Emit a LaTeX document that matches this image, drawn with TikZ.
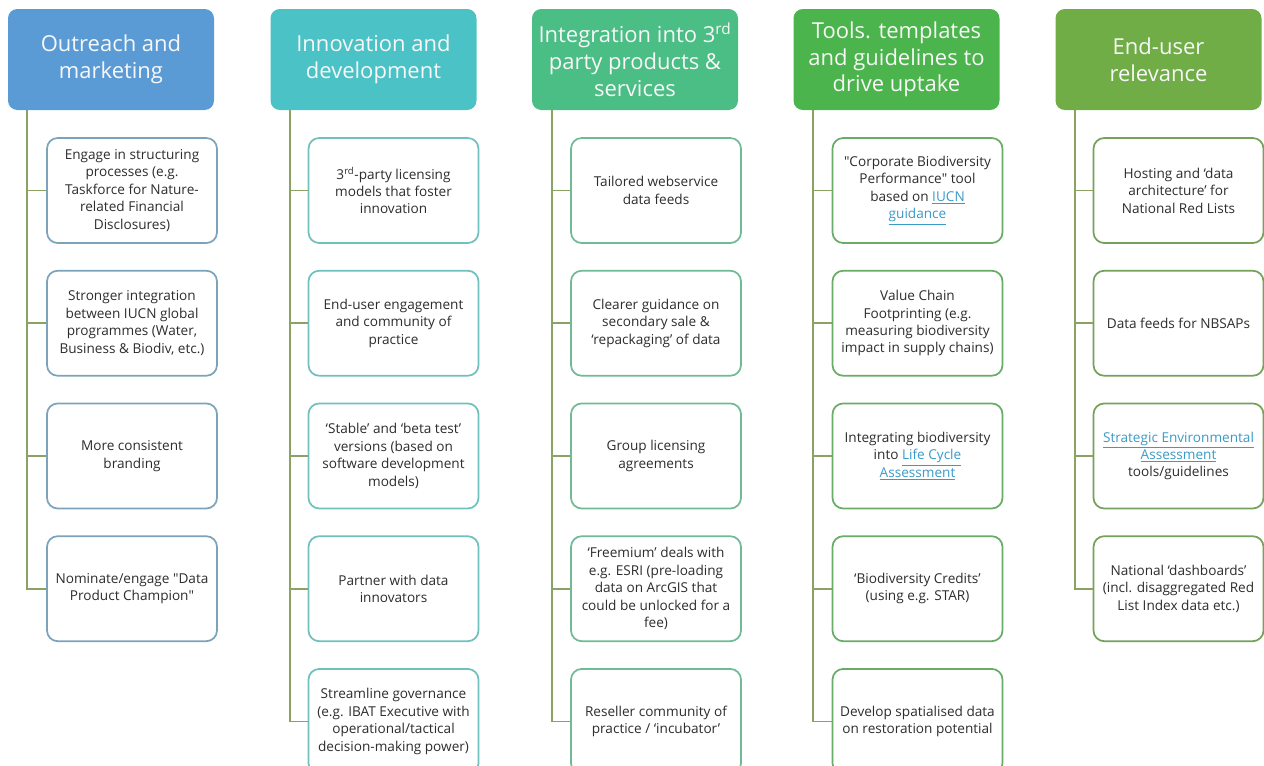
\documentclass[tikz,border=0pt]{standalone}
\usepackage{fontspec}
\setmainfont{Open Sans}
\usetikzlibrary{positioning}

\definecolor{headA}{RGB}{91,155,213}
\definecolor{headB}{RGB}{75,195,198}
\definecolor{headC}{RGB}{74,190,132}
\definecolor{headD}{RGB}{76,180,76}
\definecolor{headE}{RGB}{112,173,71}
\definecolor{rimA}{RGB}{125,163,186}
\definecolor{rimB}{RGB}{112,192,190}
\definecolor{rimC}{RGB}{112,186,150}
\definecolor{rimD}{RGB}{104,172,104}
\definecolor{rimE}{RGB}{116,162,90}
\definecolor{connline}{RGB}{138,162,98}
\definecolor{bodytext}{RGB}{45,45,45}
\definecolor{linkblue}{RGB}{58,155,200}

\newcommand{\weblink}[1]{\textcolor{linkblue}{\underline{#1}}}

\begin{document}
\begin{tikzpicture}[x=0.75pt, y=-0.75pt, node distance=19.5pt,
    head/.style={rounded corners=7pt, minimum width=154.5pt, minimum height=75.75pt,
        align=center, inner sep=2pt, text=white!94!gray,
        font=\fontsize{16.5}{20}\selectfont},
    item/.style={draw, line width=1.3pt, fill=white, rounded corners=8pt,
        minimum width=127.5pt, minimum height=78.75pt, align=center, inner sep=2pt,
        text=bodytext, font=\fontsize{10.2}{13.1}\selectfont},
    conn/.style={draw=connline, line width=1.4pt}]

    \useasboundingbox (0,0) rectangle (1264,765);

    % headers
    \node[head, fill=headA] (hA) at (111,59.5) {Outreach and\\marketing};
    \node[head, fill=headB] (hB) at (373.5,59.5) {Innovation and\\development};
    \node[head, fill=headC] (hC) at (635,59.5) {Integration into 3\textsuperscript{rd}\\party products \&\\services};
    \node[head, fill=headD] (hD) at (896.5,59.5) {Tools. templates\\and guidelines to\\drive uptake};
    \node[head, fill=headE] (hE) at (1158.5,59.5) {End-user\\relevance};

    % outreach
    \node[item, draw=rimA] (a1) at (132,190.5) {Engage in structuring\\processes (e.g.\\Taskforce for Nature-\\related Financial\\Disclosures)};
    \node[item, draw=rimA, below=of a1] (a2) {Stronger integration\\between IUCN global\\programmes (Water,\\Business \& Biodiv, etc.)};
    \node[item, draw=rimA, below=of a2] (a3) {More consistent\\branding};
    \node[item, draw=rimA, below=of a3] (a4) {Nominate/engage \textquotedbl Data\\Product Champion\textquotedbl};

    % innovation
    \node[item, draw=rimB] (b1) at (393.5,190.5) {3\textsuperscript{rd}-party licensing\\models that foster\\innovation};
    \node[item, draw=rimB, below=of b1] (b2) {End-user engagement\\and community of\\practice};
    \node[item, draw=rimB, below=of b2] (b3) {`Stable' and `beta test'\\versions (based on\\software development\\models)};
    \node[item, draw=rimB, below=of b3] (b4) {Partner with data\\innovators};
    \node[item, draw=rimB, below=of b4] (b5) {Streamline governance\\(e.g. IBAT Executive with\\operational/tactical\\decision-making power)};

    % integration
    \node[item, draw=rimC] (c1) at (656,190.5) {Tailored webservice\\data feeds};
    \node[item, draw=rimC, below=of c1] (c2) {Clearer guidance on\\secondary sale \&\\`repackaging' of data};
    \node[item, draw=rimC, below=of c2] (c3) {Group licensing\\agreements};
    \node[item, draw=rimC, below=of c3] (c4) {`Freemium' deals with\\e.g. ESRI (pre-loading\\data on ArcGIS that\\could be unlocked for a\\fee)};
    \node[item, draw=rimC, below=of c4] (c5) {Reseller community of\\practice / `incubator'};

    % tools
    \node[item, draw=rimD] (d1) at (917.5,190.5) {\textquotedbl Corporate Biodiversity\\Performance\textquotedbl{} tool\\based on \weblink{IUCN}\\\weblink{guidance}};
    \node[item, draw=rimD, below=of d1] (d2) {Value Chain\\Footprinting (e.g.\\measuring biodiversity\\impact in supply chains)};
    \node[item, draw=rimD, below=of d2] (d3) {Integrating biodiversity\\into \weblink{Life Cycle}\\\weblink{Assessment}};
    \node[item, draw=rimD, below=of d3] (d4) {`Biodiversity Credits'\\(using e.g. STAR)};
    \node[item, draw=rimD, below=of d4] (d5) {Develop spatialised data\\on restoration potential};

    % end-user
    \node[item, draw=rimE] (e1) at (1178.5,190.5) {Hosting and `data\\architecture' for\\National Red Lists};
    \node[item, draw=rimE, below=of e1] (e2) {Data feeds for NBSAPs};
    \node[item, draw=rimE, below=of e2] (e3) {\weblink{Strategic Environmental}\\\weblink{Assessment}\\tools/guidelines};
    \node[item, draw=rimE, below=of e3] (e4) {National `dashboards'\\(incl. disaggregated Red\\List Index data etc.)};

    % trunks
    \coordinate (tA) at ([xshift=14.25pt]hA.south west);
    \coordinate (tB) at ([xshift=15pt]hB.south west);
    \coordinate (tC) at ([xshift=15pt]hC.south west);
    \coordinate (tD) at ([xshift=15pt]hD.south west);
    \coordinate (tE) at ([xshift=15pt]hE.south west);

    \draw[conn] (tA) |- (a4.west) (tA |- a1.west) -- (a1.west)
        (tA |- a2.west) -- (a2.west) (tA |- a3.west) -- (a3.west);
    \draw[conn] (tB) |- (b5.west) (tB |- b1.west) -- (b1.west)
        (tB |- b2.west) -- (b2.west) (tB |- b3.west) -- (b3.west)
        (tB |- b4.west) -- (b4.west);
    \draw[conn] (tC) |- (c5.west) (tC |- c1.west) -- (c1.west)
        (tC |- c2.west) -- (c2.west) (tC |- c3.west) -- (c3.west)
        (tC |- c4.west) -- (c4.west);
    \draw[conn] (tD) |- (d5.west) (tD |- d1.west) -- (d1.west)
        (tD |- d2.west) -- (d2.west) (tD |- d3.west) -- (d3.west)
        (tD |- d4.west) -- (d4.west);
    \draw[conn] (tE) |- (e4.west) (tE |- e1.west) -- (e1.west)
        (tE |- e2.west) -- (e2.west) (tE |- e3.west) -- (e3.west);
\end{tikzpicture}
\end{document}
